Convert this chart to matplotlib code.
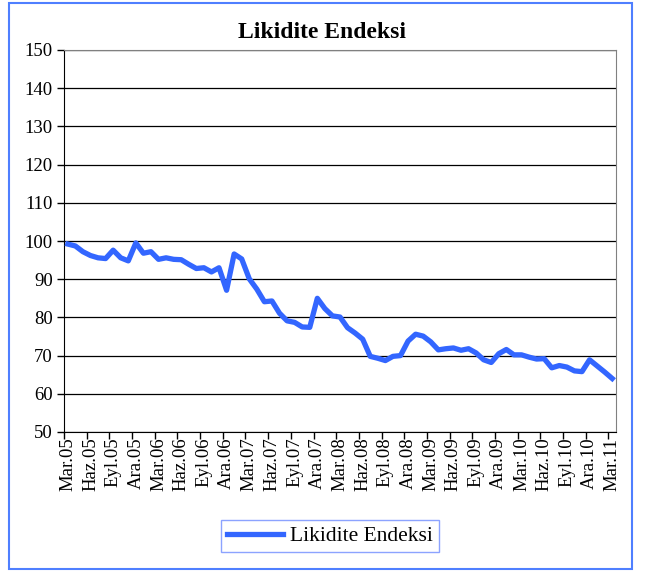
import matplotlib
matplotlib.use("Agg")
import matplotlib.pyplot as plt
from matplotlib.patches import Rectangle

plt.rcParams['font.family'] = ['Liberation Serif', 'DejaVu Serif']

values = [99.2, 98.7, 97.2, 96.2, 95.6, 95.4, 97.6, 95.6, 94.8, 99.5, 96.8, 97.2,
          95.2, 95.6, 95.2, 95.1, 93.9, 92.8, 93.0, 91.9, 93.0, 87.1, 96.6, 95.3,
          90.1, 87.4, 84.1, 84.3, 81.1, 79.1, 78.7, 77.5, 77.4, 85.0, 82.3, 80.4,
          80.1, 77.3, 75.9, 74.3, 69.8, 69.3, 68.7, 69.8, 70.0, 73.8, 75.6, 75.1,
          73.6, 71.5, 71.8, 72.0, 71.4, 71.8, 70.7, 68.9, 68.2, 70.5, 71.6, 70.2,
          70.2, 69.6, 69.1, 69.2, 66.8, 67.4, 67.0, 66.0, 65.8, 68.9, 67.3, 65.7, 64.0]
tick_labels = ["Mar.05", "Haz.05", "Eyl.05", "Ara.05", "Mar.06", "Haz.06", "Eyl.06", "Ara.06",
               "Mar.07", "Haz.07", "Eyl.07", "Ara.07", "Mar.08", "Haz.08", "Eyl.08", "Ara.08",
               "Mar.09", "Haz.09", "Eyl.09", "Ara.09", "Mar.10", "Haz.10", "Eyl.10", "Ara.10",
               "Mar.11"]
series_name = "Likidite Endeksi"

fig = plt.figure(figsize=(6.48, 5.72), dpi=100)
ax = fig.add_axes([64/648, 1-432/572, 552/648, 382/572])

x = list(range(len(values)))
line_color = "#3366FF"
ax.plot(x, values, color=line_color, lw=3.8, solid_joinstyle='round', label=series_name, zorder=3)

ax.set_xlim(-0.5, len(values) - 0.5)
ax.set_ylim(50, 150)
ax.set_yticks(range(50, 151, 10))
ax.tick_params(axis='y', labelsize=13.5, direction='out', length=5, width=1, colors='black', pad=3)
ax.grid(axis='y', color='black', lw=0.9)
ax.set_axisbelow(True)

ax.set_xticks(range(0, len(values), 3))
ax.set_xticklabels(tick_labels, rotation=90, fontsize=13.5)
ax.tick_params(axis='x', length=0, pad=4)
ax.set_xticks([i * 3 - 0.5 for i in range(25)], minor=True)
ax.tick_params(axis='x', which='minor', direction='out', length=5, width=1)

for side in ['top', 'right']:
    ax.spines[side].set_color('#808080')
ax.spines['left'].set_color('black')
ax.spines['bottom'].set_color('black')

fig.text(322/648, 1-33/572, "Likidite Endeksi", ha='center', va='center',
         fontsize=17, fontweight='bold')

leg = fig.legend(loc='center', bbox_to_anchor=(330/648, 1-536/572), fontsize=15.5,
                 frameon=True, fancybox=False, handlelength=2.6, borderpad=0.3,
                 handletextpad=0.3)
leg.get_frame().set_edgecolor('#6f8cff')
leg.get_frame().set_linewidth(1.0)

fig.patches.append(Rectangle((9/648, 3/572), 623/648, 566/572, transform=fig.transFigure,
                             fill=False, edgecolor='#4f7fff', lw=1.5))

fig.savefig("out.png", dpi=100)
